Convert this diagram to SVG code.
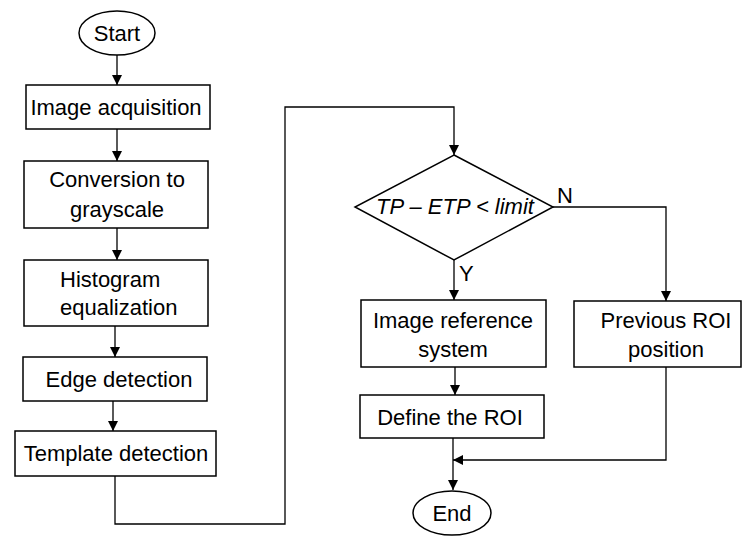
<svg xmlns="http://www.w3.org/2000/svg" width="747" height="536" viewBox="0 0 747 536">
<defs>
<marker id="ah" viewBox="0 0 10 10" refX="10" refY="5" markerWidth="10" markerHeight="10" markerUnits="userSpaceOnUse" orient="auto"><path d="M0,0 L10,5 L0,10 Z" fill="#000"/></marker>
</defs>
<style>
.s{fill:#fff;stroke:#000;stroke-width:1.5}
.c{fill:none;stroke:#000;stroke-width:1.3}
.t{font-family:"Liberation Sans",Arial,sans-serif;font-size:22px;fill:#000}
.m{text-anchor:middle}
</style>
<rect width="747" height="536" fill="#fff"/>
<g id="connectors">
<path class="c" d="M117,55 V85" marker-end="url(#ah)"/>
<path class="c" d="M117,129 V161" marker-end="url(#ah)"/>
<path class="c" d="M117,228 V260" marker-end="url(#ah)"/>
<path class="c" d="M115,326 V357" marker-end="url(#ah)"/>
<path class="c" d="M113,401 V431" marker-end="url(#ah)"/>
<path class="c" d="M115,476 V524 H285 V107 H454 V155" marker-end="url(#ah)"/>
<path class="c" d="M553,207 H666 V301" marker-end="url(#ah)"/>
<path class="c" d="M454,260 V300" marker-end="url(#ah)"/>
<path class="c" d="M455,367 V395" marker-end="url(#ah)"/>
<path class="c" d="M453,438 V490" marker-end="url(#ah)"/>
<path class="c" d="M666,367 V460 H453" marker-end="url(#ah)"/>
</g>
<g id="start"><ellipse class="s" cx="117" cy="33" rx="38" ry="22"/><text class="t m" x="117" y="41">Start</text></g>
<g id="acq"><rect class="s" x="26" y="85" width="184" height="44"/><text class="t m" x="116" y="115">Image acquisition</text></g>
<g id="gray"><rect class="s" x="24" y="161" width="184" height="67"/><text class="t m" x="117" y="187">Conversion to</text><text class="t m" x="117" y="217">grayscale</text></g>
<g id="hist"><rect class="s" x="24" y="260" width="184" height="66"/><text class="t" x="60" y="287">Histogram</text><text class="t" x="60" y="315">equalization</text></g>
<g id="edge"><rect class="s" x="23" y="357" width="184" height="44"/><text class="t m" x="119" y="387">Edge detection</text></g>
<g id="tmpl"><rect class="s" x="15" y="431" width="201" height="45"/><text class="t m" x="116" y="461">Template detection</text></g>
<g id="dec"><path class="s" d="M454,155 L553,207 L454,260 L355,207 Z"/><text class="t m" x="455" y="214" font-style="italic" font-size="20">TP – ETP &lt; limit</text></g>
<text class="t" x="557" y="203">N</text>
<text class="t" x="459" y="281">Y</text>
<g id="ref"><rect class="s" x="361" y="300" width="185" height="67"/><text class="t m" x="453" y="328">Image reference</text><text class="t m" x="453" y="357">system</text></g>
<g id="prev"><rect class="s" x="574" y="301" width="167" height="66"/><text class="t m" x="666" y="328">Previous ROI</text><text class="t m" x="666" y="357">position</text></g>
<g id="roi"><rect class="s" x="360" y="395" width="184" height="43"/><text class="t m" x="450" y="425">Define the ROI</text></g>
<g id="end"><ellipse class="s" cx="452" cy="513" rx="39" ry="22"/><text class="t m" x="452" y="521">End</text></g>
</svg>
